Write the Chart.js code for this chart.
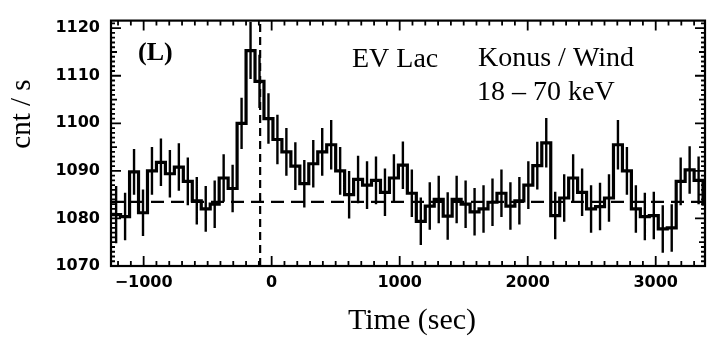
<!DOCTYPE html>
<html>
<head>
<meta charset="utf-8">
<script src="https://cdn.jsdelivr.net/npm/chart.js@4.4.1/dist/chart.umd.min.js"></script>
<style>
  html, body { margin: 0; padding: 0; background: #fff; }
  #wrap { width: 713px; height: 338px; position: relative; }
</style>
</head>
<body>
<div id="wrap"><canvas id="c" width="713" height="338"></canvas></div>
<script>
// EV Lac light curve, Konus/Wind 18-70 keV: binned count rate with 1-sigma errors
const binStart = [-1250, -1180, -1110, -1040, -970, -900, -830, -760, -690, -620,
  -550, -480, -410, -340, -270, -200, -130, -60, 10, 80,
  150, 220, 290, 360, 430, 500, 570, 640, 710, 780,
  850, 920, 990, 1060, 1130, 1200, 1270, 1340, 1410, 1480,
  1550, 1620, 1690, 1760, 1830, 1900, 1970, 2040, 2110, 2180,
  2250, 2320, 2390, 2460, 2530, 2600, 2670, 2740, 2810, 2880,
  2950, 3020, 3090, 3160, 3230, 3300, 3370];
const binWidth = 70; // s

const countRate = [1080.8, 1080.4, 1089.8, 1081.2, 1090.0, 1091.8, 1089.4, 1090.8, 1087.8, 1083.7,
  1082.0, 1083.0, 1088.5, 1086.3, 1100.0, 1115.3, 1108.8, 1101.0, 1096.6, 1094.0,
  1091.0, 1087.3, 1091.5, 1094.0, 1095.5, 1090.0, 1085.0, 1088.2, 1087.0, 1088.0,
  1085.5, 1088.5, 1091.2, 1085.3, 1079.4, 1082.6, 1084.0, 1080.5, 1084.0, 1083.0,
  1081.4, 1082.0, 1083.4, 1085.3, 1082.6, 1083.7, 1087.0, 1091.1, 1095.9, 1080.6,
  1084.3, 1088.5, 1085.5, 1082.0, 1082.5, 1084.3, 1095.5, 1090.0, 1082.0, 1080.4,
  1080.6, 1077.8, 1078.0, 1087.8, 1090.2, 1088.0, 1083.0];

const rateError = [6.0, 5.0, 4.8, 4.9, 5.0, 5.0, 5.0, 5.0, 5.0, 5.0,
  4.8, 5.0, 5.0, 5.0, 5.4, 6.0, 5.6, 5.3, 5.2, 5.0,
  5.0, 5.0, 5.0, 5.0, 5.2, 5.0, 5.0, 5.0, 5.0, 5.0,
  5.0, 5.0, 5.0, 5.0, 5.0, 5.0, 5.0, 5.0, 5.0, 5.0,
  5.0, 5.0, 5.0, 5.0, 5.0, 5.0, 5.0, 5.0, 5.2, 5.0,
  5.0, 5.0, 5.0, 5.0, 5.0, 5.0, 5.2, 5.0, 5.0, 5.0,
  5.0, 5.0, 5.0, 5.0, 5.0, 5.0, 5.0];

const xTickValues = [-1000, 0, 1000, 2000, 3000];
const yTickValues = [1070, 1080, 1090, 1100, 1110, 1120];

const flareTime = -90;          // s, vertical reference line
const backgroundLevel = 1083.5; // cnt/s, horizontal reference line

const xMin = -1255, xMax = 3385;
const yMin = 1070, yMax = 1121.6;

// step histogram points: each bin starts at its own value, last point closes the final bin
const histPoints = binStart.map((t, i) => ({ x: t, y: countRate[i] }));
histPoints.push({ x: binStart[binStart.length - 1] + binWidth, y: countRate[countRate.length - 1] });

const errorBars = {
  id: 'errorBars',
  afterDatasetsDraw(chart) {
    const { ctx, chartArea, scales: { x, y } } = chart;
    ctx.save();
    ctx.beginPath();
    ctx.rect(chartArea.left, chartArea.top, chartArea.right - chartArea.left, chartArea.bottom - chartArea.top);
    ctx.clip();
    ctx.strokeStyle = '#000';
    ctx.lineWidth = 2.4;
    ctx.beginPath();
    binStart.forEach((t, i) => {
      const px = x.getPixelForValue(t + binWidth / 2);
      ctx.moveTo(px, y.getPixelForValue(countRate[i] + rateError[i]));
      ctx.lineTo(px, y.getPixelForValue(countRate[i] - rateError[i]));
    });
    ctx.stroke();
    ctx.restore();
  }
};

const frameAndTicks = {
  id: 'frameAndTicks',
  afterDraw(chart) {
    const { ctx, chartArea: a, scales: { x, y } } = chart;
    ctx.save();
    ctx.strokeStyle = '#000';
    ctx.lineWidth = 1.8;
    ctx.beginPath();
    // inward ticks on left and right axes: every 1 cnt/s, longer every 10
    for (let v = 1070; v <= 1121; v++) {
      const py = y.getPixelForValue(v);
      const len = v % 10 === 0 ? 10 : (v % 5 === 0 ? 6 : 4);
      ctx.moveTo(a.left, py); ctx.lineTo(a.left + len, py);
      ctx.moveTo(a.right, py); ctx.lineTo(a.right - len, py);
    }
    // inward ticks on top and bottom axes: every 100 s, longer every 1000 s
    for (let t = -1200; t <= 3300; t += 100) {
      const px = x.getPixelForValue(t);
      const len = t % 1000 === 0 ? 10 : 5;
      ctx.moveTo(px, a.bottom); ctx.lineTo(px, a.bottom - len);
      ctx.moveTo(px, a.top); ctx.lineTo(px, a.top + len);
    }
    ctx.stroke();
    ctx.lineWidth = 2.2;
    ctx.strokeRect(a.left, a.top, a.right - a.left, a.bottom - a.top);

    // labels and axis titles
    ctx.fillStyle = '#000';
    ctx.textBaseline = 'alphabetic';
    ctx.textAlign = 'left';
    ctx.font = 'bold 26px "Liberation Serif", serif';
    ctx.fillText('(L)', 138, 60);
    ctx.font = '28px "Liberation Serif", serif';
    ctx.fillText('EV Lac', 352, 67);
    ctx.fillText('Konus / Wind', 478, 66);
    ctx.fillText('18 \u2013 70 keV', 477, 100);

    ctx.font = '30px "Liberation Serif", serif';
    ctx.textAlign = 'center';
    ctx.fillText('Time (sec)', 412, 329);

    ctx.save();
    ctx.translate(22, 114);
    ctx.rotate(-Math.PI / 2);
    ctx.textBaseline = 'middle';
    ctx.font = '29px "Liberation Serif", serif';
    ctx.fillText('cnt / s', 0, 0);
    ctx.restore();
    ctx.restore();
  }
};

new Chart(document.getElementById('c'), {
  type: 'line',
  data: {
    datasets: [
      {
        data: histPoints,
        borderColor: '#000',
        borderWidth: 3.2,
        stepped: true,
        fill: false,
        pointRadius: 0
      },
      {
        data: [{ x: xMin, y: backgroundLevel }, { x: xMax, y: backgroundLevel }],
        borderColor: '#000',
        borderWidth: 2.2,
        borderDash: [13, 7],
        pointRadius: 0
      },
      {
        data: [{ x: flareTime, y: yMin }, { x: flareTime, y: yMax }],
        borderColor: '#000',
        borderWidth: 2.2,
        borderDash: [8, 5],
        pointRadius: 0
      }
    ]
  },
  options: {
    responsive: false,
    animation: false,
    devicePixelRatio: 1,
    layout: { padding: { top: 15, right: 8, left: 0, bottom: 0 } },
    plugins: { legend: { display: false }, tooltip: { enabled: false } },
    scales: {
      x: {
        type: 'linear',
        min: xMin,
        max: xMax,
        grid: { display: false, drawTicks: false },
        border: { display: false },
        afterBuildTicks(scale) { scale.ticks = xTickValues.map(v => ({ value: v })); },
        afterFit(scale) { scale.height = 72; },
        ticks: {
          color: '#000',
          padding: 7,
          maxRotation: 0,
          autoSkip: false,
          font: { family: '"DejaVu Sans", sans-serif', weight: 'bold', size: 16 },
          callback: v => (v < 0 ? '\u2212' + Math.abs(v) : String(v))
        }
      },
      y: {
        type: 'linear',
        min: yMin,
        max: yMax,
        grid: { display: false, drawTicks: false },
        border: { display: false },
        afterBuildTicks(scale) { scale.ticks = yTickValues.map(v => ({ value: v })); },
        afterFit(scale) { scale.width = 111; },
        ticks: {
          color: '#000',
          padding: 11,
          autoSkip: false,
          font: { family: '"DejaVu Sans", sans-serif', weight: 'bold', size: 16 },
          callback: v => String(v)
        }
      }
    }
  },
  plugins: [errorBars, frameAndTicks]
});
</script>
</body>
</html>
